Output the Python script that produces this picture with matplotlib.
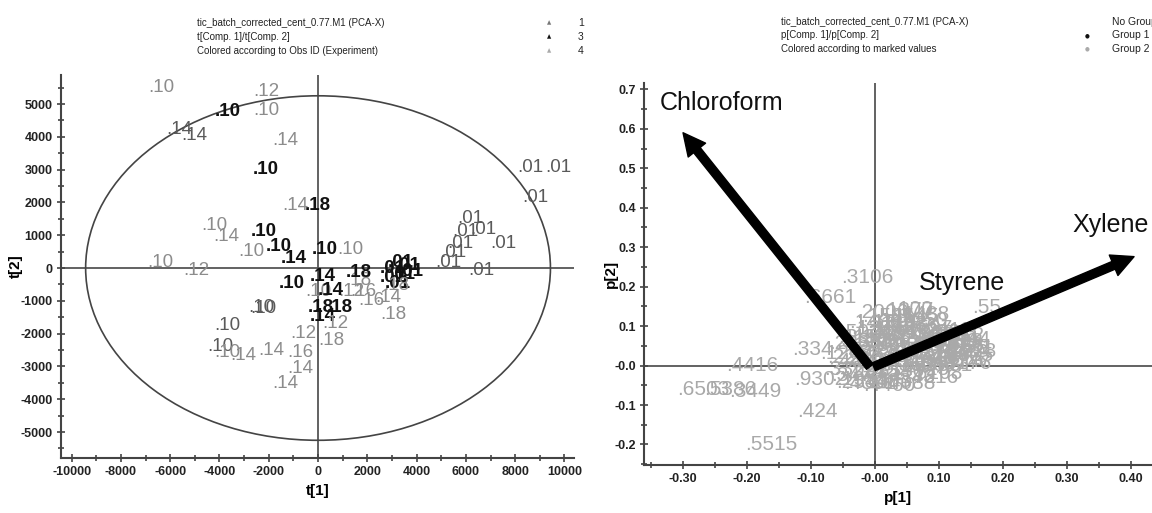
import matplotlib
matplotlib.use('Agg')
import matplotlib.pyplot as plt
from matplotlib.patches import Ellipse
from matplotlib.ticker import MultipleLocator

plt.rcParams['axes.unicode_minus'] = False
NARROW = ['Liberation Sans Narrow', 'Liberation Sans', 'DejaVu Sans']
REG = ['Liberation Sans', 'DejaVu Sans']

# ---------------- Left panel: scores t[1]/t[2] ----------------
t1_vals = [-6900, -4180, -2640, -2640, -6170, -5560, -1870, -2640, -1460, -530,
           -4750, -4260, -2720, -3250, -2110, -1500, -240, 770,
           8070, 9210, 8280, 5640, 5440, 6170, 6980, 5230, 4950, 4750, 6090,
           2520, 2840, 3120, 2520, 2920, 2720, 3250,
           2640, 1620, 2310, 2520, 1100, 810, 1300, -320, 1140, -410, 370, -320,
           160, 0, -6940, -5480, -1580, -530, 0, -2840, -2760, -4220,
           -4500, -4220, -3570, -2430, -1140, -1260, -1260, -1870]
t2_vals = [5490, 4760, 5370, 4790, 4210, 4050, 3900, 2990, 1920, 1920,
           1310, 950, 1100, 490, 670, 300, 550, 550,
           3050, 3050, 2160, 1520, 1100, 1160, 760, 760, 460, 180, -60,
           0, 180, 90, -300, -210, -460, -120,
           -520, -980, -910, -1430, -370, -730, -730, -270, -150, -1190, -1190, -1490,
           -1680, -2200, 180, -90, -460, -730, -670, -1190, -1220, -1740,
           -2380, -2560, -2680, -2500, -1980, -2560, -3050, -3510]
obs_labels = ['10', '10', '12', '10', '14', '14', '14', '10', '14', '18',
              '10', '14', '10', '10', '10', '14', '10', '10',
              '01', '01', '01', '01', '01', '01', '01', '01', '01', '01', '01',
              '01', '01', '01', '01', '01', '01', '01',
              '18', '16', '14', '18', '18', '12', '16', '14', '18', '18', '18', '14',
              '12', '18', '10', '12', '10', '10', '14', '10', '10', '10',
              '10', '10', '14', '14', '12', '16', '14', '14']
obs_groups = ['4', '3', '4', '4', '1', '1', '4', '3', '4', '3',
              '4', '4', '3', '4', '3', '3', '3', '4',
              '1', '1', '1', '1', '1', '1', '1', '1', '1', '1', '1',
              '3', '3', '3', '3', '3', '3', '3',
              '4', '4', '4', '4', '4', '4', '4', '3', '3', '3', '3', '3',
              '4', '4', '4', '4', '3', '4', '3', '1', '1', '1',
              '1', '4', '4', '4', '4', '4', '4', '4']
group_names = ['1', '3', '4']
group_colors = {'1': '#5a5a5a', '3': '#111111', '4': '#8c8c8c'}
group_legend_colors = {'1': '#777777', '3': '#111111', '4': '#aaaaaa'}
ellipse_half_axes = (9430, 5250)

# ---------------- Right panel: loadings p[1]/p[2] ----------------
p1_named = [-0.053, -0.111, -0.233, -0.309, -0.267, -0.228, -0.122, -0.203,
            -0.130, -0.127, -0.061, 0.123, 0.027, 0.152, -0.009]
p2_named = [0.223, 0.172, 0.000, -0.061, -0.061, -0.066, -0.116, -0.200,
            0.041, -0.035, -0.043, 0.061, 0.142, 0.147, 0.091]
named_labels = ['3106', '6661', '4416', '6503', '5386', '3449', '424', '5515',
                '334', '9302', '2533', '28', '100', '55', '1597']
p1_cluster = [-0.085, -0.080, -0.072, -0.065, -0.060, -0.055, -0.050, -0.045,
              -0.040, -0.035, -0.030, -0.025, -0.020, -0.015, -0.010, -0.005,
              0.000, 0.005, 0.010, 0.015, 0.020, 0.025, 0.030, 0.035, 0.040,
              0.045, 0.050, 0.055, 0.060, 0.065, 0.070, 0.080, 0.085, 0.095,
              0.100, 0.108, 0.070, 0.035, -0.030, 0.010, -0.060, 0.090,
              -0.075, -0.068, -0.058, -0.052, -0.048, -0.042, -0.038, -0.032,
              -0.028, -0.022, -0.018, -0.012, -0.008, -0.002, 0.003, 0.008,
              0.012, 0.018, 0.022, 0.028, 0.032, 0.038, 0.042, 0.048, 0.052,
              0.058, 0.062, 0.068, 0.075, 0.078, 0.088, 0.092, 0.098, 0.104,
              0.106, 0.100]
p2_cluster = [0.030, -0.010, 0.055, 0.010, -0.035, 0.085, 0.035, -0.015,
              0.110, 0.060, 0.010, -0.040, 0.125, 0.085, 0.035, -0.015,
              0.105, 0.060, 0.010, -0.030, 0.125, 0.080, 0.035, -0.010, 0.095,
              0.055, 0.015, -0.020, 0.075, 0.035, 0.000, 0.060, 0.025, 0.045,
              0.010, 0.035, 0.090, 0.130, 0.135, 0.140, 0.060, 0.075,
              0.020, -0.025, 0.070, 0.015, -0.045, 0.050, 0.095, -0.020,
              0.070, 0.025, -0.050, 0.110, 0.055, 0.000, 0.080, 0.030,
              -0.045, 0.100, 0.050, 0.000, 0.115, 0.070, 0.020, -0.030, 0.085,
              0.045, 0.005, 0.060, 0.030, 0.080, 0.050, 0.015, 0.065, 0.025,
              0.045, 0.005]
cluster_labels = ['1207', '3352', '2868', '4410', '1973', '5021', '3317', '2245',
                  '1406', '6638', '2719', '4483', '1525', '3094', '2176', '5530',
                  '1433', '2607', '3318', '4172', '1145', '2290', '3651', '4725',
                  '1597', '2883', '3936', '5108', '1622', '2744', '3381', '4069',
                  '1802', '2955', '3147', '1028', '2411', '1488', '2006', '1377',
                  '3120', '2512',
                  '2231', '3470', '1159', '2608', '4391', '1736', '1284', '3922',
                  '2047', '2815', '4460', '1391', '2563', '3708', '1915', '2472',
                  '4088', '1266', '2329', '3605', '1050', '2187', '3043', '4316',
                  '1739', '2660', '3497', '1881', '2724', '1563', '2398', '3251',
                  '1944', '2835', '1611', '3176']
var_names = ['Chloroform', 'Xylene']
var_tip_p1 = [-0.300, 0.405]
var_tip_p2 = [0.590, 0.276]
var_label_p1 = [-0.239, 0.369]
var_label_p2 = [0.666, 0.357]
extra_var_name = 'Styrene'
extra_var_p1 = 0.136
extra_var_p2 = 0.210

# ---------------- figure ----------------
W, H = 1152, 513
fig = plt.figure(figsize=(W / 100, H / 100), dpi=100)


def style_axes(ax):
    for s in ['top', 'right']:
        ax.spines[s].set_visible(False)
    for s in ['left', 'bottom']:
        ax.spines[s].set_color('#444444')
        ax.spines[s].set_linewidth(1.5)
    ax.tick_params(which='major', direction='inout', length=6, width=1.2,
                   color='#444444', labelsize=9, pad=3)
    ax.tick_params(which='minor', direction='inout', length=5, width=1.2,
                   color='#444444')
    for lab in ax.get_xticklabels() + ax.get_yticklabels():
        lab.set_fontfamily(NARROW)
        lab.set_fontweight('bold')
        lab.set_color('#222222')


# Left axes
axL = fig.add_axes([61 / W, 1 - 458 / H, 512.6 / W, (458 - 75) / H])
axL.set_xlim(-10430, 10370)
axL.set_ylim(-5790, 5884)
axL.xaxis.set_major_locator(MultipleLocator(2000))
axL.xaxis.set_minor_locator(MultipleLocator(1000))
axL.yaxis.set_major_locator(MultipleLocator(1000))
axL.yaxis.set_minor_locator(MultipleLocator(500))
style_axes(axL)
axL.axhline(0, color='#555555', lw=1.3, zorder=1)
axL.axvline(0, color='#555555', lw=1.3, zorder=1)
axL.add_patch(Ellipse((0, 0), 2 * ellipse_half_axes[0], 2 * ellipse_half_axes[1],
                      fill=False, ec='#444444', lw=1.2, zorder=1))
for x, y, lab, g in zip(t1_vals, t2_vals, obs_labels, obs_groups):
    axL.text(x, y, '.' + lab, color=group_colors[g], fontsize=13.5,
             fontweight='bold' if g == '3' else 'normal', family=NARROW,
             ha='left', va='center', zorder=3)
axL.set_xlabel('t[1]', fontsize=11, fontweight='bold', family=NARROW, labelpad=4)
axL.set_ylabel('t[2]', fontsize=11, fontweight='bold', family=NARROW, labelpad=2)
axL.yaxis.set_label_coords(-0.074, 0.5)

# Right axes
axR = fig.add_axes([644 / W, 1 - 465 / H, (W - 644) / W, (465 - 83) / H])
axR.set_xlim(-0.361, 0.433)
axR.set_ylim(-0.252, 0.716)
axR.xaxis.set_major_locator(MultipleLocator(0.1))
axR.xaxis.set_minor_locator(MultipleLocator(0.05))
axR.yaxis.set_major_locator(MultipleLocator(0.1))
axR.yaxis.set_minor_locator(MultipleLocator(0.05))
axR.xaxis.set_major_formatter(lambda v, p: ('-0.00' if abs(v) < 1e-9 else f'{v:.2f}'))
axR.yaxis.set_major_formatter(lambda v, p: ('-0.0' if abs(v) < 1e-9 else f'{v:.1f}'))
style_axes(axR)
axR.axhline(0, color='#555555', lw=1.3, zorder=1)
axR.axvline(0, color='#555555', lw=1.3, zorder=1)
for x, y, lab in zip(p1_cluster, p2_cluster, cluster_labels):
    axR.text(x, y, '.' + lab, color='#a9a9a9', fontsize=15, family=REG,
             ha='left', va='center', zorder=2)
for x, y, lab in zip(p1_named, p2_named, named_labels):
    axR.text(x, y, '.' + lab, color='#a9a9a9', fontsize=15, family=REG,
             ha='left', va='center', zorder=2)
origins = [(-0.008, -0.003), (-0.002, -0.003)]
for (ox, oy), tx, ty in zip(origins, var_tip_p1, var_tip_p2):
    axR.annotate('', xy=(tx, ty), xytext=(ox, oy),
                 arrowprops=dict(arrowstyle='simple,head_length=1.6,head_width=1.6,tail_width=0.6',
                                 fc='black', ec='black', mutation_scale=10,
                                 shrinkA=0, shrinkB=0), zorder=4)
for name, x, y in zip(var_names, var_label_p1, var_label_p2):
    axR.text(x, y, name, fontsize=18, family=REG, ha='center', va='center',
             color='#111111', zorder=5)
axR.text(extra_var_p1, extra_var_p2, extra_var_name, fontsize=18, family=REG,
         ha='center', va='center', color='#111111', zorder=5)
axR.set_xlabel('p[1]', fontsize=11, fontweight='bold', family=NARROW, labelpad=4)
axR.set_ylabel('p[2]', fontsize=11, fontweight='bold', family=NARROW, labelpad=2)
axR.yaxis.set_label_coords(-0.051, 0.5)

# Headers
hdrL = ['tic_batch_corrected_cent_0.77.M1 (PCA-X)', 't[Comp. 1]/t[Comp. 2]',
        'Colored according to Obs ID (Experiment)']
hdrR = ['tic_batch_corrected_cent_0.77.M1 (PCA-X)', 'p[Comp. 1]/p[Comp. 2]',
        'Colored according to marked values']
for i, s in enumerate(hdrL):
    fig.text(197 / W, 1 - (23 + 14 * i) / H, s, fontsize=7, family=NARROW,
             ha='left', va='center', color='#222222')
for i, g in enumerate(group_names):
    yy = 1 - (23 + 14 * i) / H
    fig.text(549 / W, yy, '▲', fontsize=4, color=group_legend_colors[g],
             ha='center', va='center', family=['DejaVu Sans'])
    fig.text(578 / W, yy, g, fontsize=7.5, family=NARROW, ha='left',
             va='center', color='#222222')
for i, s in enumerate(hdrR):
    fig.text(781 / W, 1 - (22 + 13.5 * i) / H, s, fontsize=7, family=NARROW,
             ha='left', va='center', color='#222222')
legR = ['No Group', 'Group 1', 'Group 2']
legR_marker_colors = [None, '#111111', '#aaaaaa']
for i, (s, c) in enumerate(zip(legR, legR_marker_colors)):
    yy = 1 - (22 + 13.5 * i) / H
    fig.text(1112 / W, yy, s, fontsize=7.5, family=NARROW, ha='left',
             va='center', color='#222222')
    if c is not None:
        fig.text(1087 / W, yy, '●', fontsize=4, color=c, ha='center',
                 va='center', family=['DejaVu Sans'])

fig.savefig('out.png', dpi=100)
